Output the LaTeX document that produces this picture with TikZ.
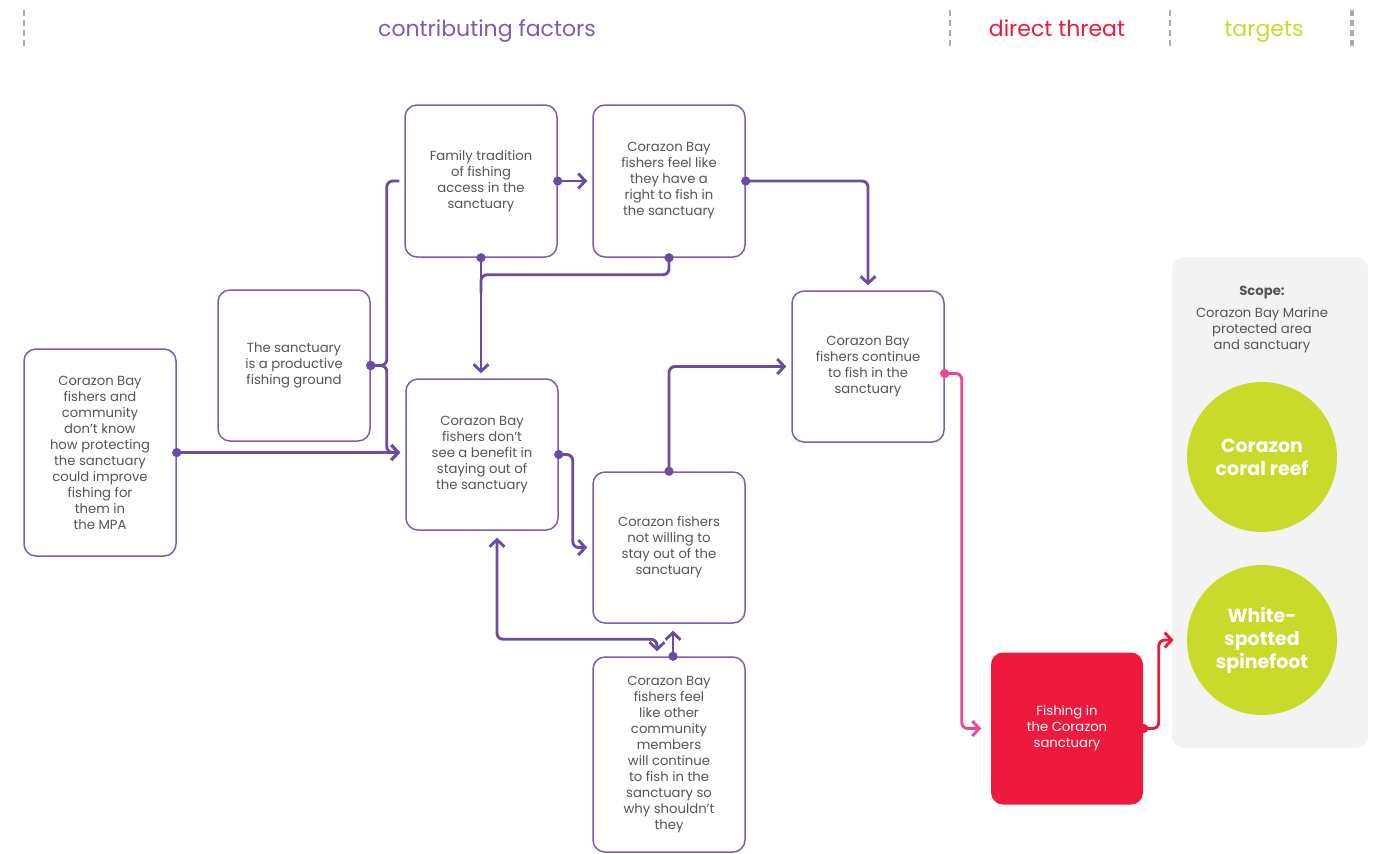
\documentclass[tikz,border=0pt]{standalone}
\usepackage{fontspec}
\setmainfont{Poppins}
\usetikzlibrary{arrows.meta,calc}
\definecolor{plum}{HTML}{7E5CB4}
\definecolor{plumline}{HTML}{6A4DA3}
\definecolor{crimson}{HTML}{EE1A3D}
\definecolor{rose}{HTML}{EE4597}
\definecolor{chart}{HTML}{C9DA2B}
\definecolor{panel}{HTML}{F3F3F3}
\definecolor{inkc}{HTML}{555555}
\definecolor{rulec}{HTML}{ADADAD}

\begin{document}
\begin{tikzpicture}[x=0.5pt,y=-0.5pt,
    box/.style={draw=plum, line width=0.75pt, fill=white, rounded corners=6pt,
      minimum width=76pt, align=center, text=inkc, inner sep=2pt,
      font=\fontsize{6.6}{8}\selectfont},
    head/.style={anchor=base, font=\fontsize{11}{13}\selectfont},
    target/.style={circle, fill=chart, minimum size=75pt, align=center, text=white,
      font=\bfseries\fontsize{9.5}{11.5}\selectfont},
    link/.style={draw=plumline, line width=1.45pt, rounded corners=3pt, shorten >=2.5pt},
    dotarrow/.style={{Circle[length=4.5pt]}->, shorten <=-2.25pt},
    dotline/.style={{Circle[length=4.5pt]}-, shorten <=-2.25pt},
    >={Straight Barb[length=3.5pt,width=7.5pt]}]
  \useasboundingbox (0,0) rectangle (1386,853);
  % column headings
  \foreach \x in {24,950,1170}
    \draw[rulec, line width=0.6pt, dash pattern=on 3pt off 2pt] (\x,10) -- (\x,50);
  \draw[rulec, line width=1.6pt, dash pattern=on 3pt off 2pt] (1352,10) -- (1352,50);
  \node[head, text=plum] (hfactors) at (487,36) {contributing factors};
  \node[head, text=crimson] (hthreat) at (1057,36) {direct threat};
  \node[head, text=chart] (htargets) at (1264,36) {targets};
  % scope panel
  \node[fill=panel, rounded corners=6pt, minimum width=98pt, minimum height=245.5pt] (scope) at (1270,502.5) {};
  \node[text=inkc, align=center, font=\fontsize{6.6}{8}\selectfont] (scopetxt) at (1262,319)
    {\textbf{Scope:}\\[3pt]Corazon Bay Marine\\protected area\\and sanctuary};
  \node[target] (reef) at (1262,457) {Corazon\\coral reef};
  \node[target] (spinefoot) at (1262,640) {White-\\spotted\\spinefoot};
  % contributing factors
  \foreach \n/\x/\y/\h/\t in {%
    know/100/452.5/207/{Corazon Bay\\fishers and\\community\\don’t know\\how protecting\\the sanctuary\\could improve\\fishing for\\them in\\the MPA},
    ground/294/365.5/151/{The sanctuary\\is a productive\\fishing ground},
    tradition/481/181/152/{Family tradition\\of fishing\\access in the\\sanctuary},
    right/669/181/152/{Corazon Bay\\fishers feel like\\they have a\\right to fish in\\the sanctuary},
    benefit/482/454.5/151/{Corazon Bay\\fishers don’t\\see a benefit in\\staying out of\\the sanctuary},
    willing/669/547.5/151/{Corazon fishers\\not willing to\\stay out of the\\sanctuary},
    others/669/754.5/195/{Corazon Bay\\fishers feel\\like other\\community\\members\\will continue\\to fish in the\\sanctuary so\\why shouldn’t\\they},
    continue/868/366.5/151/{Corazon Bay\\fishers continue\\to fish in the\\sanctuary}}
    \node[box, minimum height=\h*0.5pt] (\n) at (\x,\y) {\t};
  % direct threat
  \node[box, draw=none, fill=crimson, text=white, minimum height=76pt] (threat) at (1067,728.5)
    {Fishing in\\the Corazon\\sanctuary};
  % links
  \draw[link, dotarrow] (know.east) -- (know.east -| benefit.west);
  \draw[link, dotline] (ground.east) -- ++(16,0) |- (tradition.west);
  \draw[link, dotarrow] (ground.east) -- ++(16,0) |- (know.east -| benefit.west);
  \draw[link, dotarrow] (tradition.east) -- (right.west);
  \draw[link, dotarrow] (tradition.south) -- (tradition.south |- benefit.north);
  \draw[link, dotline] (right.south) -- ++(0,17) -| ($(tradition.south)+(0,40)$);
  \draw[link, dotarrow] (right.east) -| (continue.north);
  \draw[link, dotarrow] (benefit.east) -- ++(14,0) |- (willing.west);
  \draw[link, dotarrow] (willing.north) |- (continue.west);
  \draw[link, <->, shorten <=3.5pt] ($(benefit.south)+(15,0)$) |- ($(others.north)+(-12,-17)$)
    -- ($(others.north)+(-12,0)$);
  \draw[link, dotarrow, shorten >=3.5pt] ($(others.north)+(4,0)$) -- ($(willing.south)+(4,0)$);
  \draw[link, draw=rose, dotarrow] ($(continue.east)+(0,7)$) -- ++(17,0) |- ($(threat.west)+(-4,0)$);
  \draw[link, draw=crimson, dotarrow] (threat.east) -- ++(15,0) |- ($(spinefoot.west)+(-8,0)$);
\end{tikzpicture}
\end{document}
